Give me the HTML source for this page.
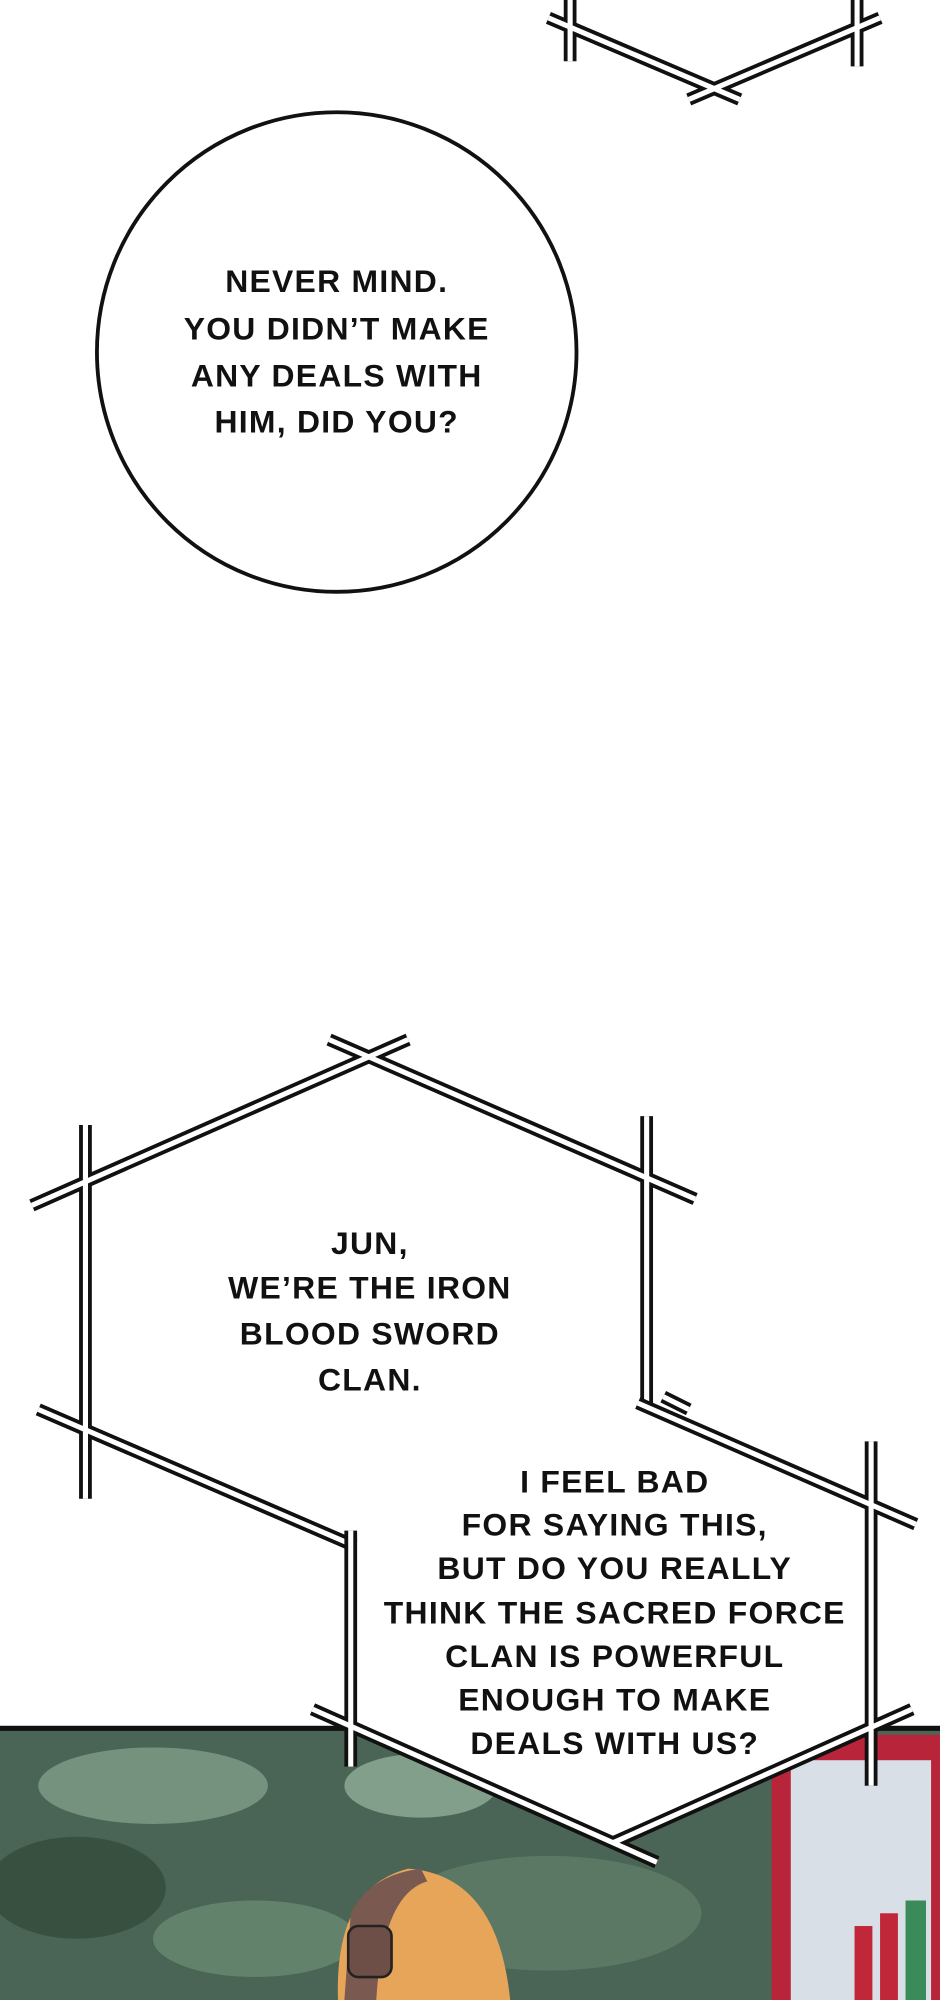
<!DOCTYPE html>
<html><head><meta charset="utf-8"><style>
html,body{margin:0;padding:0;background:#fff;}
svg{display:block;}
text{font-family:"Liberation Sans",sans-serif;font-weight:bold;fill:#111;letter-spacing:1px;}
</style></head><body>
<svg width="940" height="2000" viewBox="0 0 737 1568" preserveAspectRatio="none" xmlns="http://www.w3.org/2000/svg">
<rect width="737" height="1568" fill="#fff"/>
<rect x="0" y="1355" width="737" height="213" fill="#4a6555"/>
<ellipse cx="120" cy="1400" rx="90" ry="30" fill="#74927e"/>
<ellipse cx="60" cy="1480" rx="70" ry="40" fill="#38503f"/>
<ellipse cx="200" cy="1520" rx="80" ry="30" fill="#62826c"/>
<ellipse cx="430" cy="1500" rx="120" ry="45" fill="#5a7864"/>
<ellipse cx="330" cy="1400" rx="60" ry="25" fill="#819f8b"/>
<rect x="605" y="1360" width="132" height="208" fill="#b8243a"/>
<rect x="620" y="1380" width="110" height="188" fill="#d8dfe6"/>
<rect x="670" y="1510" width="14" height="58" fill="#c0283a"/>
<rect x="690" y="1500" width="14" height="68" fill="#c0283a"/>
<rect x="710" y="1490" width="16" height="78" fill="#3a8a5a"/>
<path d="M265 1568 Q262 1480 320 1465 Q390 1470 400 1568 Z" fill="#e7a55a"/>
<path d="M270 1568 L275 1500 Q290 1470 330 1465 L335 1475 Q300 1485 295 1568 Z" fill="#7a5a50"/>
<rect x="273" y="1510" width="34" height="40" rx="8" fill="#6e4f48" stroke="#222" stroke-width="2"/>
<rect x="0" y="1353" width="737" height="4" fill="#111"/>
<g stroke="#111" stroke-width="10" fill="none">
<path d="M430 14 L580 78 M540 78 L690 14 M447 0 L447 48 M672 0 L672 52"/>
</g>
<g stroke="#fff" stroke-width="4" fill="none">
<path d="M430 14 L580 78 M540 78 L690 14 M447 0 L447 48 M672 0 L672 52"/>
</g>
<circle cx="264" cy="276" r="188" fill="#fff" stroke="#111" stroke-width="3"/>
<g font-size="25" text-anchor="middle">
<text x="264" y="229">NEVER MIND.</text>
<text x="264" y="266">YOU DIDN’T MAKE</text>
<text x="264" y="303">ANY DEALS WITH</text>
<text x="264" y="339">HIM, DID YOU?</text>
</g>
<g>
<path d="M25 945 L320 815 M258 815 L545 940 M67 882 L67 1175 M507 875 L507 1110 M30 1105 L285 1215" stroke="#111" stroke-width="10" fill="none"/>
<path d="M25 945 L320 815 M258 815 L545 940 M67 882 L67 1175 M507 875 L507 1110 M30 1105 L285 1215" stroke="#fff" stroke-width="4" fill="none"/>
</g>
<g font-size="25" text-anchor="middle">
<text x="290" y="983">JUN,</text>
<text x="290" y="1018">WE’RE THE IRON</text>
<text x="290" y="1054">BLOOD SWORD</text>
<text x="290" y="1090">CLAN.</text>
</g>
<polygon points="275,1210 500,1105 700,1170 700,1345 480,1445 260,1345" fill="#fff"/>
<g>
<path d="M500 1100 L718 1195 M683 1130 L683 1400 M480 1445 L715 1340 M245 1340 L515 1460 M275 1200 L275 1385 M520 1095 L540 1105" stroke="#111" stroke-width="10" fill="none"/>
<path d="M500 1100 L718 1195 M683 1130 L683 1400 M480 1445 L715 1340 M245 1340 L515 1460 M275 1200 L275 1385 M520 1095 L540 1105" stroke="#fff" stroke-width="4" fill="none"/>
</g>
<g font-size="25" text-anchor="middle">
<text x="482" y="1170">I FEEL BAD</text>
<text x="482" y="1204">FOR SAYING THIS,</text>
<text x="482" y="1238">BUT DO YOU REALLY</text>
<text x="482" y="1273">THINK THE SACRED FORCE</text>
<text x="482" y="1307">CLAN IS POWERFUL</text>
<text x="482" y="1341">ENOUGH TO MAKE</text>
<text x="482" y="1375">DEALS WITH US?</text>
</g>
</svg>
</body></html>
